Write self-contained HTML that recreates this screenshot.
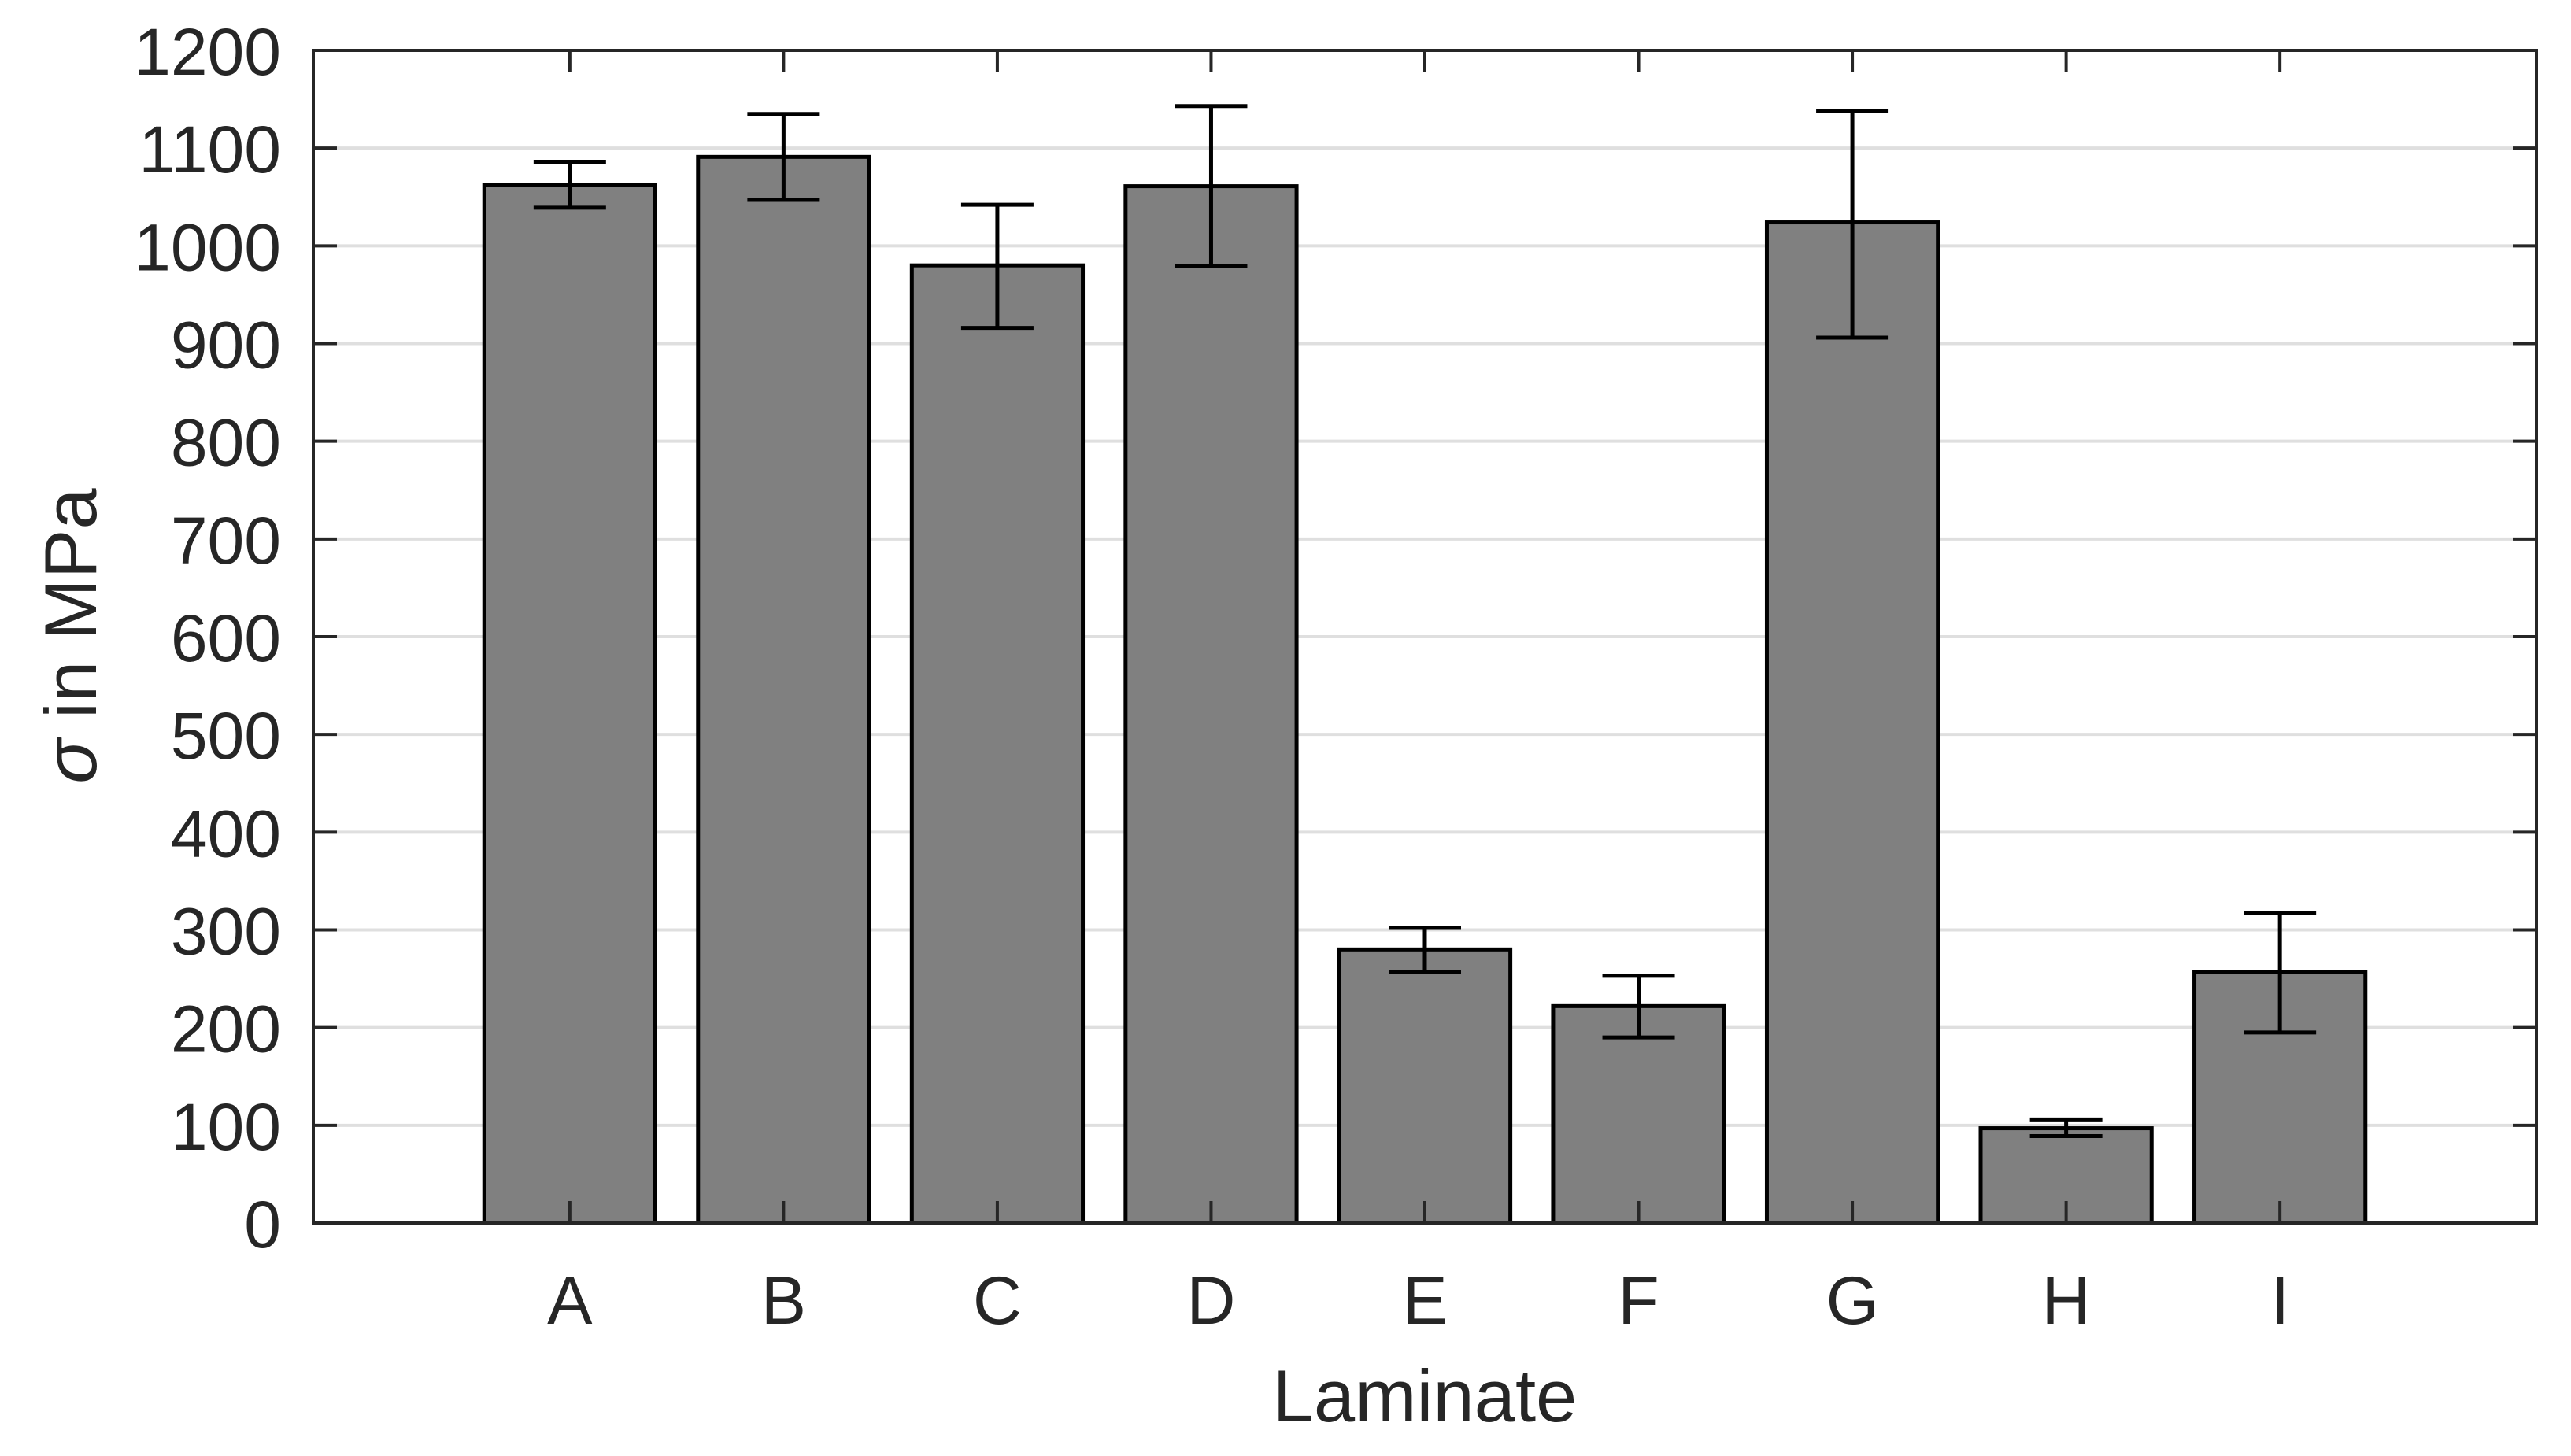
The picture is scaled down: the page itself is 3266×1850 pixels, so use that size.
<!DOCTYPE html>
<html><head><meta charset="utf-8"><style>
html,body{margin:0;padding:0;background:#fff}
svg{display:block}
text{font-family:"Liberation Sans",sans-serif;fill:#262626}
</style></head><body>
<svg id="chart" width="3266" height="1850" viewBox="0 0 3266 1850" xmlns="http://www.w3.org/2000/svg">
<g id="grid"></g>
<g id="bars"></g>
<g id="errs"></g>
<g id="axes"></g>
<text x="1810" y="1806" font-size="94" text-anchor="middle">Laminate</text>
<text transform="translate(122,808) rotate(-90)" font-size="94" text-anchor="middle"><tspan font-style="italic">σ</tspan> in MPa</text>
</svg>
<script>
const categories = ["A","B","C","D","E","F","G","H","I"];
const values = [1062,1091,980,1061,280,222,1024,97,257];
const errLow = [1039,1047,916,979,257,190,906,89,195];
const errHigh = [1086,1135,1042,1143,302,253,1138,106,317];
const yTicks = [0,100,200,300,400,500,600,700,800,900,1000,1100,1200];

const L=398,R=3222,T=64,B=1554;
const xMin=-0.2,xMax=10.2,yMax=1200;
const sx=i=>L+((i+1)-xMin)/(xMax-xMin)*(R-L);
const sy=v=>B-v/yMax*(B-T);
const NS="http://www.w3.org/2000/svg";
function mk(tag,attrs,parent){const e=document.createElementNS(NS,tag);for(const k in attrs)e.setAttribute(k,attrs[k]);parent.appendChild(e);return e;}
const grid=document.getElementById('grid'),bars=document.getElementById('bars'),errs=document.getElementById('errs'),axes=document.getElementById('axes');
const step=(R-L)/(xMax-xMin), bw=step*0.8;

yTicks.forEach(t=>{
  if(t>0&&t<yMax){
    const g=mk('line',{x1:L,x2:R,y1:sy(t),y2:sy(t),stroke:'#dfdfdf','stroke-width':4},grid);
    
    
  }
  const a=mk('line',{x1:L,x2:L+30,y1:sy(t),y2:sy(t),stroke:'#262626','stroke-width':4},axes);
  
  
  const b=mk('line',{x1:R-30,x2:R,y1:sy(t),y2:sy(t),stroke:'#262626','stroke-width':4},axes);
  
  
  const lb=mk('text',{x:357,y:sy(t)+31,'font-size':84,'text-anchor':'end'},axes);
  lb.textContent=t;
  
  
});

categories.forEach((c,i)=>{
  const x=sx(i);
  const r=mk('rect',{x:x-bw/2,y:sy(values[i]),width:bw,height:B-sy(values[i]),fill:'#808080',stroke:'#000','stroke-width':5},bars);
  
  
  const e=mk('path',{d:`M${x},${sy(errLow[i])}V${sy(errHigh[i])}M${x-46},${sy(errLow[i])}H${x+46}M${x-46},${sy(errHigh[i])}H${x+46}`,stroke:'#000','stroke-width':5,fill:'none'},errs);
  
  
  const tb=mk('line',{x1:x,x2:x,y1:B,y2:B-28,stroke:'#262626','stroke-width':4},axes);
  
  
  const tt=mk('line',{x1:x,x2:x,y1:T,y2:T+28,stroke:'#262626','stroke-width':4},axes);
  
  
  const lb=mk('text',{x:x,y:1682,'font-size':86,'text-anchor':'middle'},axes);
  lb.textContent=c;
  
  
});
const fr=mk('rect',{x:L,y:T,width:R-L,height:B-T,fill:'none',stroke:'#262626','stroke-width':4},axes);


</script>
</body></html>
